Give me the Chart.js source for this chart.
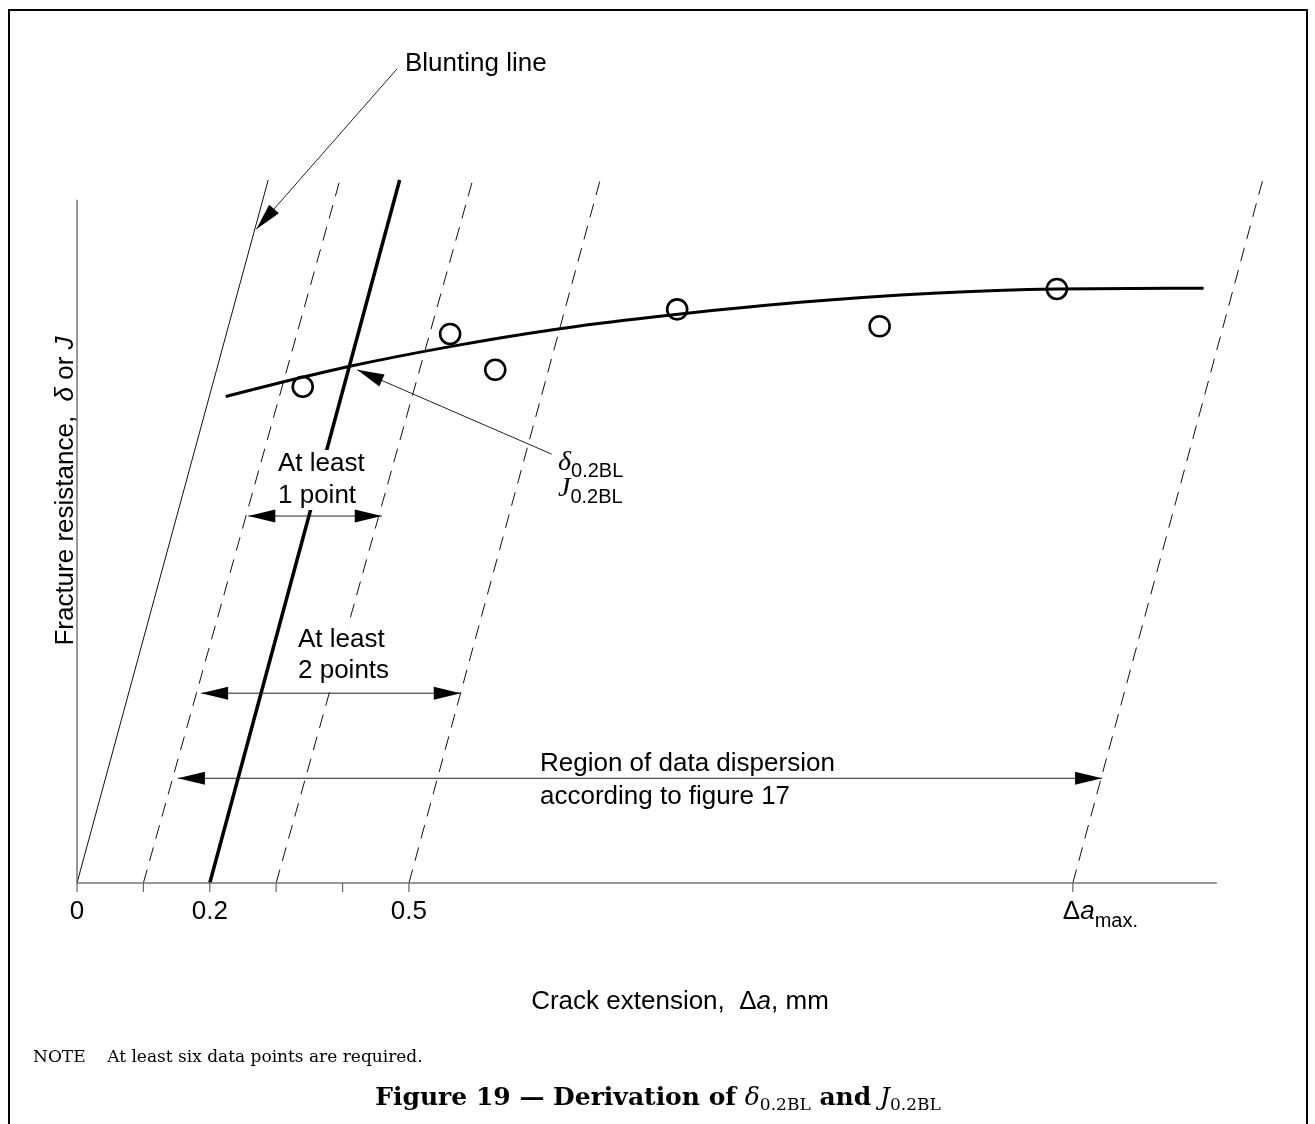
<!DOCTYPE html>
<html>
<head>
<meta charset="utf-8">
<script src="https://cdn.jsdelivr.net/npm/chart.js@4.4.1/dist/chart.umd.min.js"></script>
<style>
  html, body { margin: 0; padding: 0; background: #ffffff; }
  #wrap { width: 1315px; height: 1124px; position: relative; }
</style>
</head>
<body>
<div id="wrap"><canvas id="c" width="1315" height="1124"></canvas></div>
<script>
// ---------- DATA (x: crack extension in mm, y: normalised fracture resistance) ----------
const curveX = [0.224, 0.316, 0.411, 0.562, 0.717, 0.868, 1.089, 1.289, 1.476, 1.697];
const curveY = [0.692, 0.714, 0.735, 0.763, 0.787, 0.805, 0.826, 0.839, 0.845, 0.846];

const pointsX = [0.340, 0.562, 0.630, 0.904, 1.209, 1.476];
const pointsY = [0.706, 0.781, 0.730, 0.816, 0.792, 0.845];

// blunting line (through origin) and its parallels: [x at y=0, x at y=1]
const bluntingX = [0.0, 0.288];
const offsetLine02X = [0.2, 0.486];          // 0.2 mm offset (thick)
const dashedStartX = [0.1, 0.3, 0.5, 1.5];   // exclusion / Δa_max lines
const dashedEndX = [0.396, 0.596, 0.788, 1.786];
const lineY = [0, 1];

const axisYTop = 0.972;
const axisXEnd = 1.717;

const xTickValues = [0, 0.1, 0.2, 0.3, 0.4, 0.5, 1.5];
const xTickLabels = ["0", "", "0.2", "", "", "0.5", "Δa|max."];

// arrows [x1, y1, x2, y2] in data units
const bluntArrow = [0.482, 1.158, 0.270, 0.930];
const deltaArrow = [0.715, 0.610, 0.422, 0.730];
const onePointArrow = [0.258, 0.522, 0.459, 0.522];
const twoPointsArrow = [0.187, 0.270, 0.578, 0.270];
const regionArrow = [0.152, 0.149, 1.544, 0.149];

// ---------- build datasets ----------
const pts = (xs, ys) => xs.map((x, i) => ({ x: x, y: ys[i] }));
const datasets = [];
datasets.push({ data: pts([0, 0], [0, axisYTop]), borderColor: '#555', borderWidth: 1.2 });
datasets.push({ data: pts([0, axisXEnd], [0, 0]), borderColor: '#777', borderWidth: 1.5 });
datasets.push({ data: pts(bluntingX, lineY), borderColor: '#111', borderWidth: 1 });
dashedStartX.forEach((s, i) => {
  datasets.push({ data: pts([s, dashedEndX[i]], lineY), borderColor: '#111', borderWidth: 1, borderDash: [14, 9] });
});
datasets.push({ data: pts(offsetLine02X, lineY), borderColor: '#000', borderWidth: 3.5 });
datasets.push({ data: pts(curveX, curveY), borderColor: '#000', borderWidth: 3, cubicInterpolationMode: 'monotone' });
datasets.push({ data: pts(pointsX, pointsY), showLine: false, pointRadius: 10, pointBorderWidth: 2.6,
  pointBackgroundColor: '#fff', pointBorderColor: '#000' });
datasets.forEach(d => {
  if (d.showLine === undefined) { d.showLine = true; d.pointRadius = 0; }
  d.fill = false; d.clip = false;
});

// ---------- helpers ----------
const SANS = '"Liberation Sans", Arial, Helvetica, sans-serif';
const SERIF = '"Liberation Serif", "Times New Roman", serif';
const WSERIF = '"DejaVu Serif", serif';

function runsWidth(ctx, runs) {
  let w = 0;
  runs.forEach(r => { ctx.font = r.f; w += ctx.measureText(r.t).width; });
  return w;
}
function drawRuns(ctx, runs, x, y, align) {
  let w = runsWidth(ctx, runs);
  let cx = align === 'center' ? x - w / 2 : x;
  ctx.textBaseline = 'alphabetic';
  ctx.textAlign = 'left';
  runs.forEach(r => {
    ctx.font = r.f;
    ctx.fillText(r.t, cx, y + (r.dy || 0));
    cx += ctx.measureText(r.t).width;
  });
}
// two-line label with a white knock-out behind it
function knockLabel(ctx, lines, x, y1, y2, font) {
  ctx.font = font;
  const w = Math.max(...lines.map(t => ctx.measureText(t).width));
  ctx.save();
  ctx.fillStyle = '#fff';
  ctx.fillRect(x - 3, y1 - 21, w + 6, (y2 - y1) + 28);
  ctx.restore();
  drawRuns(ctx, [{ t: lines[0], f: font }], x, y1, 'left');
  drawRuns(ctx, [{ t: lines[1], f: font }], x, y2, 'left');
}
function arrowHead(ctx, tx, ty, fx, fy, len, hw) {
  const a = Math.atan2(ty - fy, tx - fx);
  ctx.beginPath();
  ctx.moveTo(tx, ty);
  ctx.lineTo(tx - len * Math.cos(a) + hw * Math.sin(a), ty - len * Math.sin(a) - hw * Math.cos(a));
  ctx.lineTo(tx - len * Math.cos(a) - hw * Math.sin(a), ty - len * Math.sin(a) + hw * Math.cos(a));
  ctx.closePath();
  ctx.fill();
}

const figurePlugin = {
  id: 'figure',
  beforeDraw(chart) {
    const ctx = chart.ctx;
    ctx.save();
    ctx.fillStyle = '#fff';
    ctx.fillRect(0, 0, chart.width, chart.height);
    ctx.strokeStyle = '#000';
    ctx.lineWidth = 2;
    ctx.strokeRect(9, 10, 1298, 1130);
    ctx.restore();
  },
  afterDatasetsDraw(chart) {
    const ctx = chart.ctx;
    const xs = chart.scales.x, ys = chart.scales.y;
    const px = v => xs.getPixelForValue(v), py = v => ys.getPixelForValue(v);
    ctx.save();
    // x ticks
    ctx.strokeStyle = '#666';
    ctx.lineWidth = 1.2;
    xTickValues.forEach(v => {
      ctx.beginPath();
      ctx.moveTo(px(v), py(0));
      ctx.lineTo(px(v), py(0) + 9);
      ctx.stroke();
    });
    // tick labels
    ctx.fillStyle = '#000';
    xTickValues.forEach((v, i) => {
      const lab = xTickLabels[i];
      if (!lab) return;
      if (lab.indexOf('|') >= 0) {
        drawRuns(ctx, [
          { t: 'Δ', f: '26px ' + SANS },
          { t: 'a', f: 'italic 26px ' + SANS },
          { t: lab.split('|')[1], f: '20px ' + SANS, dy: 8 }
        ], px(v) - 10, py(0) + 36, 'left');
      } else {
        drawRuns(ctx, [{ t: lab, f: '26px ' + SANS }], px(v), py(0) + 36, 'center');
      }
    });

    // text with white knock-out behind (drawn before arrows)
    ctx.fillStyle = '#000';
    const F = '26px ' + SANS;
    knockLabel(ctx, ['At least', '1 point'], 278, 471, 503, F);
    knockLabel(ctx, ['At least', '2 points'], 298, 647, 678, F);

    // arrows
    ctx.strokeStyle = '#222';
    ctx.fillStyle = '#000';
    ctx.lineWidth = 1;
    const single = (a) => {
      const x1 = px(a[0]), y1 = py(a[1]), x2 = px(a[2]), y2 = py(a[3]);
      ctx.beginPath(); ctx.moveTo(x1, y1); ctx.lineTo(x2, y2); ctx.stroke();
      arrowHead(ctx, x2, y2, x1, y1, 27, 6.5);
    };
    const double = (a) => {
      const x1 = px(a[0]), y1 = py(a[1]), x2 = px(a[2]), y2 = py(a[3]);
      ctx.beginPath(); ctx.moveTo(x1, y1); ctx.lineTo(x2, y2); ctx.stroke();
      arrowHead(ctx, x2, y2, x1, y1, 27, 6.5);
      arrowHead(ctx, x1, y1, x2, y2, 27, 6.5);
    };
    single(bluntArrow);
    single(deltaArrow);
    double(onePointArrow);
    double(twoPointsArrow);
    double(regionArrow);

    // other texts
    ctx.fillStyle = '#000';
    drawRuns(ctx, [{ t: 'Blunting line', f: F }], 405, 71, 'left');
    drawRuns(ctx, [{ t: 'Region of data dispersion', f: F }], 540, 771, 'left');
    drawRuns(ctx, [{ t: 'according to figure 17', f: F }], 540, 804, 'left');
    drawRuns(ctx, [
      { t: 'δ', f: 'italic 28px ' + SERIF },
      { t: '0.2BL', f: '20px ' + SANS, dy: 7 }
    ], 558, 470, 'left');
    drawRuns(ctx, [
      { t: 'J', f: 'italic 28px ' + SERIF },
      { t: '0.2BL', f: '20px ' + SANS, dy: 7 }
    ], 558, 496, 'left');

    // axis titles
    drawRuns(ctx, [
      { t: 'Crack extension,  Δ', f: F },
      { t: 'a', f: 'italic 26px ' + SANS },
      { t: ', mm', f: F }
    ], 680, 1009, 'center');

    ctx.save();
    ctx.translate(73, 491);
    ctx.rotate(-Math.PI / 2);
    drawRuns(ctx, [
      { t: 'Fracture resistance,  ', f: F },
      { t: 'δ', f: 'italic 26px ' + SANS },
      { t: ' or ', f: F },
      { t: 'J', f: 'italic 26px ' + SANS }
    ], 0, 0, 'center');
    ctx.restore();

    // note & caption
    drawRuns(ctx, [{ t: 'NOTE    At least six data points are required.', f: '17px ' + WSERIF }], 33, 1062, 'left');
    drawRuns(ctx, [
      { t: 'Figure 19 — Derivation of ', f: 'bold 25px ' + WSERIF },
      { t: 'δ', f: 'italic 25px ' + WSERIF },
      { t: '0.2BL', f: '17px ' + WSERIF, dy: 5 },
      { t: ' and ', f: 'bold 25px ' + WSERIF },
      { t: 'J', f: 'italic 25px ' + WSERIF },
      { t: '0.2BL', f: '17px ' + WSERIF, dy: 5 }
    ], 658, 1105, 'center');
    ctx.restore();
  }
};

new Chart(document.getElementById('c'), {
  type: 'scatter',
  data: { datasets: datasets },
  options: {
    responsive: false,
    animation: false,
    events: [],
    layout: { padding: { left: 77, right: 43, top: 180, bottom: 241 } },
    plugins: { legend: { display: false }, tooltip: { enabled: false } },
    scales: {
      x: { type: 'linear', min: 0, max: 1.8, display: false },
      y: { type: 'linear', min: 0, max: 1, display: false }
    }
  },
  plugins: [figurePlugin]
});
</script>
</body>
</html>
